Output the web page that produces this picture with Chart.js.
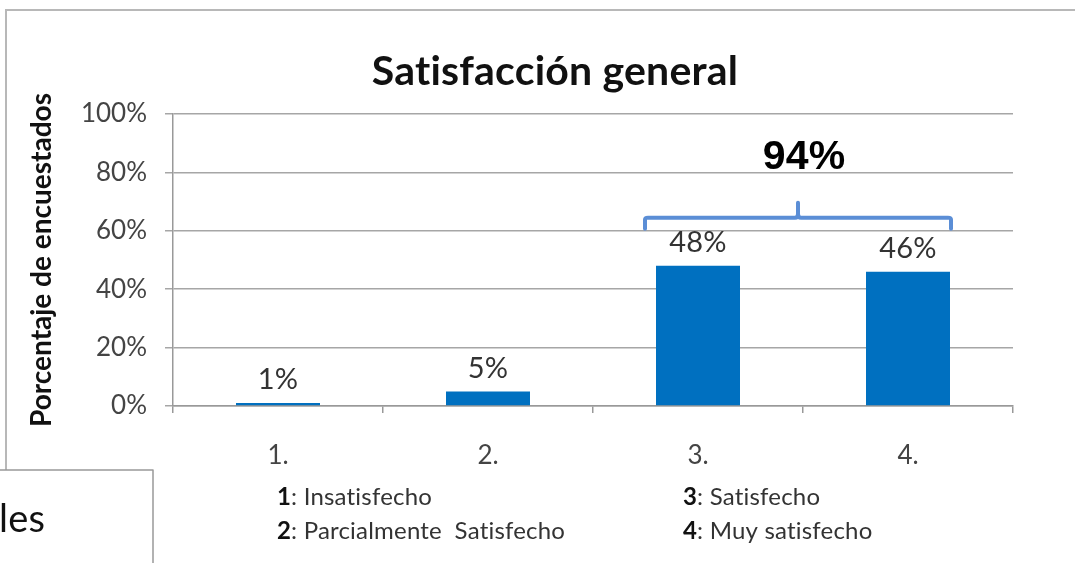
<!DOCTYPE html>
<html><head><meta charset="utf-8">
<script src="https://cdn.jsdelivr.net/npm/chart.js@4/dist/chart.umd.min.js"></script>
<style>html,body{margin:0;padding:0;background:#fff}#wrap{width:1075px;height:563px;position:relative}</style>
</head><body><div id="wrap"><canvas id="c" width="1075" height="563"></canvas></div>
<script>
const categories = ['1.', '2.', '3.', '4.'];
const values = [1, 5, 48, 46];
const valueLabels = ['1%', '5%', '48%', '46%'];
const yTicks = [0, 20, 40, 60, 80, 100];
const legendNums = ['1', '2', '3', '4'];
const legendTexts = ['Insatisfecho', 'Parcialmente  Satisfecho', 'Satisfecho', 'Muy satisfecho'];
const groupLabel = '94%';
const groupIdx = [2, 3];
const bracketLevel = 64.5;
const titleText = 'Satisfacción general';
const yTitle = 'Porcentaje de encuestados';
const sideText = 'les';

const FONT = 'Lato, "Open Sans", sans-serif';

const deco = {
  id: 'deco',
  beforeDraw(chart) {
    const ctx = chart.ctx;
    ctx.save();
    ctx.fillStyle = '#fff';
    ctx.fillRect(0, 0, chart.width, chart.height);
    ctx.strokeStyle = '#b8b8b8';
    ctx.lineWidth = 2;
    ctx.beginPath();
    ctx.moveTo(1080, 10); ctx.lineTo(6, 10); ctx.lineTo(6, 470);
    ctx.stroke();
    ctx.restore();
  },
  afterDraw(chart) {
    const ctx = chart.ctx;
    const ys = chart.scales.y;
    const meta = chart.getDatasetMeta(0);
    ctx.save();
    if ('letterSpacing' in ctx) ctx.letterSpacing = '0.2px';
    // title
    ctx.fillStyle = '#111';
    ctx.font = 'bold 41px ' + FONT;
    ctx.textAlign = 'center';
    ctx.textBaseline = 'middle';
    ctx.fillText(titleText, 555, 72);
    // data labels
    ctx.fillStyle = '#333';
    ctx.font = '29px ' + FONT;
    meta.data.forEach((b, i) => {
      ctx.fillText(valueLabels[i], b.x, b.y - 23);
    });
    // bracket
    const b1 = meta.data[groupIdx[0]], b2 = meta.data[groupIdx[groupIdx.length - 1]];
    const x1 = b1.x - b1.width / 2 - 11, x2 = b2.x + b2.width / 2 + 1;
    const yb = ys.getPixelForValue(bracketLevel);
    const xm = (x1 + x2) / 2;
    ctx.strokeStyle = '#5b8ed6';
    ctx.lineWidth = 4;
    ctx.lineJoin = 'round';
    ctx.lineCap = 'round';
    ctx.beginPath();
    ctx.moveTo(x1, yb + 11); ctx.lineTo(x1, yb + 2);
    ctx.quadraticCurveTo(x1, yb, x1 + 3, yb);
    ctx.lineTo(xm - 3, yb); ctx.quadraticCurveTo(xm, yb, xm, yb - 4);
    ctx.lineTo(xm, yb - 15);
    ctx.moveTo(xm, yb - 4); ctx.quadraticCurveTo(xm, yb, xm + 3, yb);
    ctx.lineTo(x2 - 3, yb); ctx.quadraticCurveTo(x2, yb, x2, yb + 2);
    ctx.lineTo(x2, yb + 11);
    ctx.stroke();
    ctx.fillStyle = '#000';
    ctx.font = 'bold 41px "Liberation Sans", Arial, sans-serif';
    ctx.fillText(groupLabel, xm + 6, 158);
    // legend text
    ctx.textAlign = 'left';
    const pos = [[277, 497], [277, 531], [683, 497], [683, 531]];
    legendNums.forEach((n, i) => {
      const [x, y] = pos[i];
      ctx.font = 'bold 24px ' + FONT;
      ctx.fillStyle = '#111';
      ctx.fillText(n, x, y);
      const w = ctx.measureText(n).width;
      ctx.font = '24px ' + FONT;
      ctx.fillStyle = '#333';
      ctx.fillText(': ' + legendTexts[i], x + w, y);
    });
    // side box
    ctx.fillStyle = '#fff';
    ctx.fillRect(-2, 470, 155, 100);
    ctx.strokeStyle = '#999';
    ctx.lineWidth = 1.5;
    ctx.strokeRect(-2, 470, 155, 100);
    ctx.fillStyle = '#111';
    ctx.font = '38px ' + FONT;
    ctx.fillText(sideText, -1, 520);
    ctx.restore();
  }
};

new Chart(document.getElementById('c'), {
  type: 'bar',
  data: {
    labels: categories,
    datasets: [{ data: values, backgroundColor: '#0070c0', barPercentage: 0.4, categoryPercentage: 1.0 }]
  },
  options: {
    responsive: false,
    animation: false,
    events: [],
    layout: { padding: { left: 23, top: 114, right: 62, bottom: 0 } },
    plugins: { legend: { display: false }, tooltip: { enabled: false }, title: { display: false } },
    scales: {
      x: {
        grid: { display: true, drawOnChartArea: false, drawTicks: true, tickLength: 7, color: '#999', lineWidth: 1.5, offset: true },
        border: { display: true, color: '#999', width: 1.5 },
        ticks: { color: '#444', font: { family: FONT, size: 26 }, padding: 27 },
        afterFit(s) { s.height = 157; }
      },
      y: {
        min: 0, max: 100,
        afterBuildTicks(s) { s.ticks = yTicks.map(v => ({ value: v })); },
        grid: { color: '#a6a6a6', lineWidth: 1.5, tickLength: 8 },
        border: { display: true, color: '#999', width: 1.5 },
        ticks: { color: '#444', font: { family: FONT, size: 26 }, padding: 18, callback: v => v + '%' },
        title: { display: true, text: yTitle, color: '#111', font: { family: FONT, size: 28, weight: 'bold' }, padding: { top: 2, bottom: 0 } },
        afterFit(s) { s.width = 150; }
      }
    }
  },
  plugins: [deco]
});
</script></body></html>
